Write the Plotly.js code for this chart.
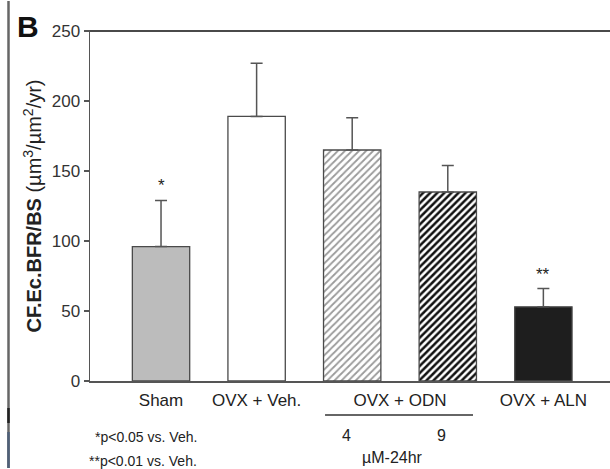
<!DOCTYPE html>
<html>
<head>
<meta charset="utf-8">
<script src="https://cdn.plot.ly/plotly-3.0.1.min.js"></script>
<style>html,body{margin:0;padding:0;background:#fff;}#chart{width:610px;height:469px;}</style>
</head>
<body>
<div id="chart"></div>
<script>
// Data
const groups = ["Sham", "OVX + Veh.", "OVX + ODN 4", "OVX + ODN 9", "OVX + ALN"];
const values = [96, 189, 165, 135, 53];
const errors = [33, 38, 23, 19, 13];
const sigMarks = ["*", "", "", "", "**"];
const tickLabels = ["Sham", "OVX + Veh.", "OVX + ODN", "OVX + ALN"];
const tickPositions = [0, 1, 2.5, 4];
const doseLabels = ["4", "9"];
const doseIdx = [2, 3];
const doseUnit = "µM-24hr";
const footnotes = ["*p<0.05 vs. Veh.", "**p<0.01 vs. Veh."];
const yTicks = [0, 50, 100, 150, 200, 250];

// plot-area geometry helpers (pixels -> paper coords)
const L = 90, T = 31, W = 520, H = 350;
const px = x => (x - L) / W;
const py = y => (T + H - y) / H;

const xs = groups.map((_, i) => i);
const fills = ["#bcbcbc", "#ffffff", "#ffffff", "#ffffff", "#1e1e1e"];
const patterns = [
  {shape: ""}, {shape: ""},
  {shape: "/", fgcolor: "#9a9a9a", bgcolor: "#ffffff", size: 5, solidity: 0.35},
  {shape: "/", fgcolor: "#111111", bgcolor: "#ffffff", size: 5, solidity: 0.5},
  {shape: ""}
];

const traces = xs.map(i => ({
  type: "bar",
  x: [xs[i]],
  y: [values[i]],
  width: 0.6,
  marker: {color: fills[i], line: {color: "#4a4a4a", width: 1.3}, pattern: patterns[i]},
  error_y: {type: "data", symmetric: false, array: [errors[i]], arrayminus: [0],
            color: "#555", thickness: 1.5, width: 6},
  showlegend: false, hoverinfo: "skip"
}));

const annotations = [];
xs.forEach(i => {
  if (sigMarks[i]) annotations.push({
    x: xs[i], y: values[i] + errors[i], xref: "x", yref: "y",
    text: sigMarks[i], showarrow: false, yanchor: "bottom", yshift: 3,
    font: {family: "Liberation Sans, Arial", size: 17, color: "#222"}
  });
});
doseLabels.forEach((t, k) => annotations.push({
  x: xs[doseIdx[k]], y: py(435), xref: "x", yref: "paper", text: t, showarrow: false,
  xshift: -6, yanchor: "middle",
  font: {family: "Liberation Sans, Arial", size: 16, color: "#222"}
}));
annotations.push({
  x: (xs[doseIdx[0]] + xs[doseIdx[1]]) / 2, y: py(457), xref: "x", yref: "paper",
  text: doseUnit, showarrow: false, yanchor: "middle", xshift: -7,
  font: {family: "Liberation Sans, Arial", size: 16, color: "#222"}
});
footnotes.forEach((t, k) => annotations.push({
  x: px(199), y: py(437 + 24 * k), xref: "paper", yref: "paper",
  xanchor: "right", yanchor: "middle", text: t, showarrow: false,
  font: {family: "Liberation Sans, Arial", size: 14, color: "#222"}
}));
// panel letter
annotations.push({
  x: px(28), y: py(26), xref: "paper", yref: "paper",
  text: "<b>B</b>", showarrow: false, xanchor: "center", yanchor: "middle",
  font: {family: "Liberation Sans, Arial", size: 30, color: "#111"}
});

const layout = {
  width: 610, height: 469,
  margin: {l: L, r: 610 - L - W, t: T, b: 469 - T - H},
  paper_bgcolor: "#fff", plot_bgcolor: "#fff",
  font: {family: "Liberation Sans, Arial", color: "#222"},
  bargap: 0,
  xaxis: {
    range: [-0.743, 4.697], showgrid: false, zeroline: false,
    showline: true, mirror: true, linecolor: "#555", linewidth: 1.5,
    tickvals: tickPositions, ticktext: tickLabels, ticks: "",
    tickfont: {size: 17, color: "#222"}, ticklabelstandoff: 3
  },
  yaxis: {
    range: [0, 250], tickvals: yTicks, showgrid: false, zeroline: false,
    showline: true, linecolor: "#555", linewidth: 1.5,
    ticks: "outside", ticklen: 5, tickwidth: 1.5, tickcolor: "#555",
    tickfont: {size: 17, color: "#333"},
    title: {text: "<b>CF.Ec.BFR/BS</b> (µm<sup>3</sup>/µm<sup>2</sup>/yr)",
            font: {size: 20, color: "#222"}, standoff: 4}
  },
  shapes: [
    {type: "line", xref: "paper", yref: "paper", x0: 0, x1: 1, y0: 1, y1: 1,
     line: {color: "#4a4a4a", width: 1.8}},
    {type: "line", xref: "x", yref: "paper", x0: 1.716, x1: 3.264, y0: py(415), y1: py(415),
     line: {color: "#333", width: 1.3}},
    {type: "line", xref: "paper", yref: "paper", x0: px(8.5), x1: px(8.5), y0: py(468), y1: py(1),
     line: {color: "#666", width: 2.5}},
    {type: "line", xref: "paper", yref: "paper", x0: px(8.5), x1: px(8.5), y0: py(408), y1: py(423),
     line: {color: "#222", width: 2.5}},
    {type: "line", xref: "paper", yref: "paper", x0: px(8.5), x1: px(8.5), y0: py(432), y1: py(468),
     line: {color: "#4f6079", width: 2.5}}
  ],
  annotations: annotations
};

Plotly.newPlot("chart", traces, layout, {staticPlot: true, displayModeBar: false});
</script>
</body>
</html>
